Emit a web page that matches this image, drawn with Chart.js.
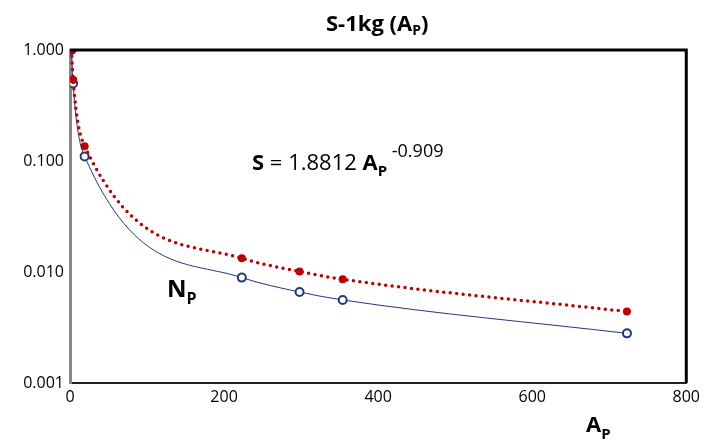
<!DOCTYPE html>
<html>
<head>
<meta charset="utf-8">
<script src="https://cdn.jsdelivr.net/npm/chart.js@4"></script>
<style>
  html, body { margin: 0; background: #fff; }
  #wrap { width: 705px; height: 444px; }
</style>
</head>
<body>
<div id="wrap"><canvas id="chart" width="705" height="444"></canvas></div>
<script>
// values
const areaValues = [2, 4, 19, 223, 298, 354, 723];
const npValues = [1.0, 0.5, 0.11, 0.0089, 0.0066, 0.0056, 0.0028];
const sValues = [1.0, 0.54, 0.136, 0.0133, 0.0101, 0.0086, 0.0044];
const yTicks = [0.001, 0.01, 0.1, 1];
const xTicks = [0, 200, 400, 600, 800];

const FONT = "'Open Sans', Lato, sans-serif";

const toPoints = (ys) => areaValues.map((x, i) => ({ x: x, y: ys[i] }));

// draws a list of text runs left to right: [text, size, bold, dy]
function drawRuns(ctx, x, y, runs) {
  runs.forEach(([text, size, bold, dy]) => {
    ctx.font = (bold ? "bold " : "") + size + "px " + FONT;
    ctx.fillText(text, x, y + (dy || 0));
    x += ctx.measureText(text).width;
  });
}

const decorations = {
  id: "decorations",
  afterDraw(chart) {
    const { ctx, chartArea: a } = chart;
    ctx.save();
    // top and right frame
    ctx.strokeStyle = "#000";
    ctx.lineWidth = 3;
    ctx.beginPath();
    ctx.moveTo(a.left, a.top);
    ctx.lineTo(a.right, a.top);
    ctx.lineTo(a.right, a.bottom);
    ctx.stroke();

    ctx.fillStyle = "#000";
    ctx.textBaseline = "alphabetic";
    ctx.textAlign = "left";
    drawRuns(ctx, 326, 31, [["S-1kg (A", 22, true], ["P", 14, true, 4], [")", 22, true]]);
    drawRuns(ctx, 252, 170, [["S", 22, true], [" = 1.8812 ", 22, false], ["A", 22, true], ["P", 15, true, 6], [" -0.909", 18, false, -13]]);
    drawRuns(ctx, 167, 297, [["N", 24, true], ["P", 16, true, 7]]);
    drawRuns(ctx, 586, 432, [["A", 22, true], ["P", 15, true, 7]]);
    ctx.restore();
  }
};

new Chart(document.getElementById("chart"), {
  type: "scatter",
  data: {
    datasets: [
      {
        label: "S",
        data: toPoints(sValues),
        showLine: true,
        borderColor: "#c00000",
        backgroundColor: "#c00000",
        borderWidth: 3.5,
        borderDash: [0, 6.5],
        borderCapStyle: "round",
        cubicInterpolationMode: "monotone",
        pointRadius: 4,
        pointBorderWidth: 0,
        pointBackgroundColor: "#c00000"
      },
      {
        label: "Np",
        data: toPoints(npValues),
        showLine: true,
        borderColor: "#1f3a7a",
        borderWidth: 1,
        cubicInterpolationMode: "monotone",
        pointRadius: 4,
        pointBorderWidth: 2,
        pointBorderColor: "#1f3a7a",
        pointBackgroundColor: "#fff"
      }
    ]
  },
  options: {
    responsive: false,
    animation: false,
    layout: { padding: { top: 50, right: 17, left: 0, bottom: 0 } },
    plugins: {
      legend: { display: false },
      title: { display: false },
      tooltip: { enabled: false }
    },
    scales: {
      x: {
        type: "linear",
        min: 0,
        max: 800,
        afterBuildTicks: (scale) => { scale.ticks = xTicks.map((v) => ({ value: v })); },
        afterFit: (scale) => { scale.height = 61; },
        ticks: { color: "#000", font: { family: FONT, size: 16 }, padding: 5 },
        grid: { display: false, drawTicks: false },
        border: { color: "#222", width: 2 }
      },
      y: {
        type: "logarithmic",
        min: 0.001,
        max: 1,
        afterBuildTicks: (scale) => { scale.ticks = yTicks.map((v) => ({ value: v })); },
        afterFit: (scale) => { scale.width = 70; },
        ticks: {
          color: "#000",
          font: { family: FONT, size: 16 },
          padding: 6,
          callback: (v) => Number(v).toFixed(3)
        },
        grid: { display: false, drawTicks: false },
        border: { color: "#888", width: 3 }
      }
    }
  },
  plugins: [decorations]
});
</script>
</body>
</html>
